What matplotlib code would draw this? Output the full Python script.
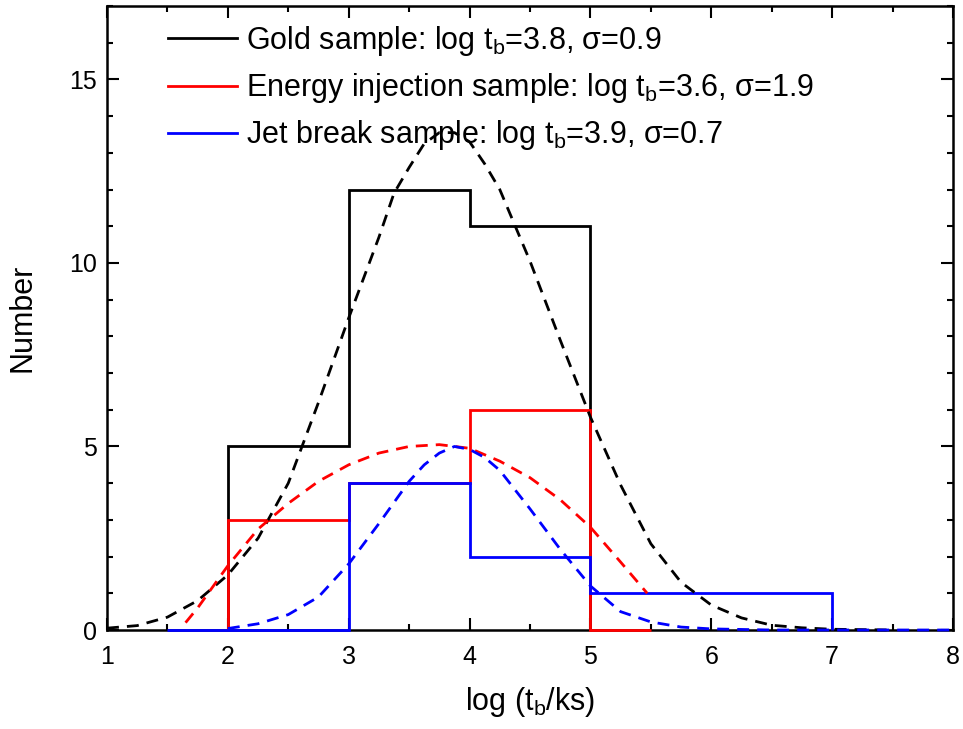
import matplotlib
matplotlib.use('Agg')
import matplotlib.pyplot as plt
from matplotlib.ticker import MultipleLocator

plt.rcParams['font.family'] = ['Liberation Sans', 'DejaVu Sans']
plt.rcParams['mathtext.default'] = 'regular'

# histogram bins (log t_b) and counts
gold_edges = [2, 3, 4, 5]
gold_counts = [5, 12, 11]
energy_edges = [2, 3, 4, 5, 5.5]
energy_counts = [3, 4, 6, 0]
jet_edges = [1.5, 3, 4, 5, 7]
jet_counts = [0, 4, 2, 1]

# fitted curves, values
gold_fit_x = [1.0, 1.25, 1.5, 1.75, 2.0, 2.25, 2.5, 2.75, 3.0, 3.25, 3.375, 3.5,
              3.625, 3.75, 3.875, 4.0, 4.125, 4.25, 4.5, 4.75, 5.0, 5.25, 5.5,
              5.75, 6.0, 6.25, 6.5, 6.75, 7.0, 7.5]
gold_fit_y = [0.05, 0.12, 0.35, 0.8, 1.5, 2.5, 4.0, 6.2, 8.5, 10.7, 11.9, 12.6,
              13.25, 13.55, 13.55, 13.3, 12.7, 12.0, 10.05, 7.9, 5.8, 3.95, 2.35,
              1.3, 0.68, 0.33, 0.13, 0.06, 0.02, 0.0]
energy_fit_x = [1.65, 1.75, 2.0, 2.25, 2.5, 2.75, 3.0, 3.25, 3.5, 3.75, 4.0, 4.25,
                4.5, 4.75, 5.0, 5.25, 5.47]
energy_fit_y = [0.2, 0.6, 1.75, 2.75, 3.45, 4.05, 4.5, 4.82, 5.0, 5.05, 4.95, 4.6,
                4.15, 3.55, 2.8, 1.85, 1.0]
jet_fit_x = [2.0, 2.25, 2.5, 2.75, 3.0, 3.25, 3.5, 3.625, 3.75, 3.875, 4.0, 4.125,
             4.25, 4.5, 4.75, 5.0, 5.25, 5.5, 5.75, 6.0, 6.5, 7.0, 8.0]
jet_fit_y = [0.04, 0.17, 0.42, 0.9, 1.8, 2.9, 4.05, 4.5, 4.82, 5.0, 4.92, 4.7,
             4.35, 3.3, 2.2, 1.2, 0.5, 0.22, 0.08, 0.03, 0.0, 0.0, 0.0]

labels = ['Gold sample: log t$_b$=3.8, σ=0.9',
          'Energy injection sample: log t$_b$=3.6, σ=1.9',
          'Jet break sample: log t$_b$=3.9, σ=0.7']

fig = plt.figure(figsize=(9.63, 7.29), dpi=100)
ax = fig.add_axes([0.1111, 0.1358, 0.8785, 0.856])

ax.stairs(gold_counts, gold_edges, baseline=0, color='black', lw=2.0, zorder=3, clip_on=False)
ax.stairs(energy_counts, energy_edges, baseline=0, color='red', lw=2.0, zorder=3, clip_on=False)
ax.stairs(jet_counts, jet_edges, baseline=0, color='blue', lw=2.0, zorder=3, clip_on=False)

dash = (4.3, 2.9)
ax.plot(gold_fit_x, gold_fit_y, color='black', lw=2.0, dashes=dash, zorder=3, clip_on=False)
ax.plot(energy_fit_x, energy_fit_y, color='red', lw=2.0, dashes=dash, zorder=3, clip_on=False)
ax.plot(jet_fit_x, jet_fit_y, color='blue', lw=2.0, dashes=dash, zorder=3, clip_on=False)

lines = [plt.Line2D([], [], color=c, lw=2.0) for c in ['black', 'red', 'blue']]
ax.legend(lines, labels, loc='upper left', bbox_to_anchor=(0.072, 0.971),
          frameon=False, fontsize=22, handlelength=2.26, handletextpad=0.3,
          labelspacing=0.43, borderaxespad=0, borderpad=0)

ax.set_xlim(1, 8)
ax.set_ylim(0, 17)
ax.xaxis.set_major_locator(MultipleLocator(1))
ax.xaxis.set_minor_locator(MultipleLocator(0.5))
ax.yaxis.set_major_locator(MultipleLocator(5))
ax.yaxis.set_minor_locator(MultipleLocator(1))
ax.tick_params(which='both', direction='in', top=True, right=True, width=1.5,
               labelsize=18)
ax.tick_params(which='major', length=8.6)
ax.tick_params(which='minor', length=4.3)
ax.tick_params(axis='x', pad=11)
ax.tick_params(axis='y', pad=7)
for s in ax.spines.values():
    s.set_linewidth(1.8)

ax.set_xlabel('log (t$_b$/ks)', fontsize=22, labelpad=11)
ax.set_ylabel('Number', fontsize=22, labelpad=23)

fig.savefig('out.png', dpi=100)
